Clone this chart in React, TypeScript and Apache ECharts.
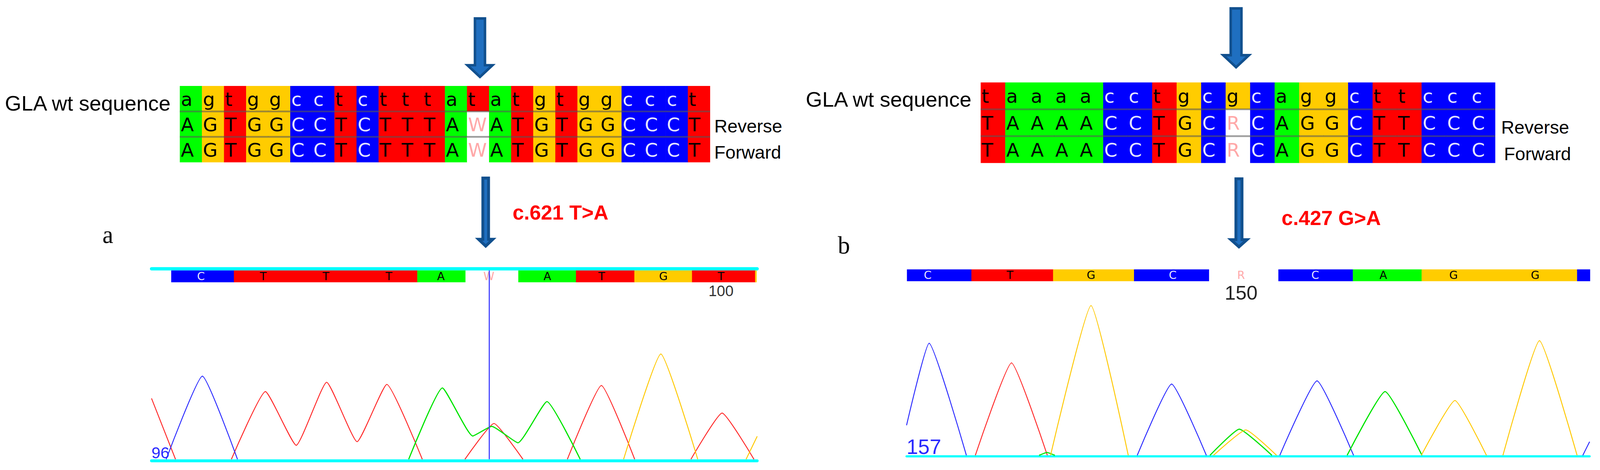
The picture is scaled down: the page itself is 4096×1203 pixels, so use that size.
import React, { useEffect, useRef } from 'react';
import * as echarts from 'echarts';

const S = 4096 / 4467;
const p = (v: number) => v * S;

// ---------- alignment data ----------
const leftWt = ['a','g','t','g','g','c','c','t','c','t','t','t','a','t','a','t','g','t','g','g','c','c','c','t'];
const leftReverse = ['A','G','T','G','G','C','C','T','C','T','T','T','A','W','A','T','G','T','G','G','C','C','C','T'];
const leftForward = ['A','G','T','G','G','C','C','T','C','T','T','T','A','W','A','T','G','T','G','G','C','C','C','T'];
const rightWt = ['t','a','a','a','a','c','c','t','g','c','g','c','a','g','g','c','t','t','c','c','c'];
const rightReverse = ['T','A','A','A','A','C','C','T','G','C','R','C','A','G','G','C','T','T','C','C','C'];
const rightForward = ['T','A','A','A','A','C','C','T','G','C','R','C','A','G','G','C','T','T','C','C','C'];
const rowNames = ['GLA wt sequence', 'Reverse', 'Forward'];
const mutations = ['c.621 T>A', 'c.427 G>A'];
const panelLetters = ['a', 'b'];

// ---------- base-call strips [start, end, base] ----------
const leftStrip: [number, number, string][] = [[55,230,'C'],[230,742,'T'],[742,876,'A'],[1024,1185,'A'],[1185,1348,'T'],[1348,1509,'G'],[1509,1685,'T'],[1685,1689,'G']];
const leftCalls: [number, string][] = [[138,'C'],[312,'T'],[487,'T'],[663,'T'],[808,'A'],[942,'W'],[1105,'A'],[1257,'T'],[1429,'G'],[1590,'T']];
const rightStrip: [number, number, string][] = [[1,181,'C'],[181,409,'T'],[409,635,'G'],[635,844,'C'],[1038,1246,'C'],[1246,1438,'A'],[1438,1872,'G'],[1872,1908,'C']];
const rightCalls: [number, string][] = [[59,'C'],[289,'T'],[515,'G'],[743,'C'],[934,'R'],[1141,'C'],[1331,'A'],[1527,'G'],[1755,'G']];
const positionLabels = ['100', '150', '96', '157'];

// ---------- traces [scan, intensity] ----------
const leftRedPeaks = [
  [[0,170],[67,0]],
  [[223,0],[318,189],[404,39],[489,215],[574,49],[657,209],[756,0]],
  [[875,0],[956,100],[1037,0]],
  [[1161,0],[1256,206],[1349,0]],
  [[1506,0],[1593,129],[1682,0]],
];
const leftBluePeaks = [[[41,0],[142,232],[240,0]]];
const leftGreenPeaks = [[[718,0],[812,199],[897,65],[950,92],[1023,46],[1104,161],[1197,0]]];
const leftYellowPeaks = [[[1318,0],[1422,294],[1525,0]], [[1660,0],[1691,64]]];
const leftCursor = [[943,0],[943,527]];

const rightBluePeaks = [[[0,84],[63,313],[167,0]], [[644,0],[740,199],[837,0]], [[1042,0],[1146,208],[1248,0]], [[1888,0],[1907,38]]];
const rightRedPeaks = [[[192,0],[293,258],[393,0]]];
const rightGreenPeaks = [[[370,0],[392,8],[414,0]], [[847,0],[929,73],[1020,0]], [[1230,0],[1336,178],[1439,0]]];
const rightYellowPeaks = [[[402,0],[515,418],[619,0]], [[857,0],[947,71],[1033,0]], [[1437,0],[1531,153],[1619,0]], [[1665,0],[1767,320],[1872,0]]];

const FILL: Record<string, string> = { a: '#00ff00', g: '#ffcc00', t: '#ff0000', c: '#0000ff' };
const baseFill = (b: string) => FILL[b.toLowerCase()] || '#ffffff';
const baseText = (b: string) => {
  const l = b.toLowerCase();
  if (l === 'c') return '#e4e4ff';
  if (l === 'w' || l === 'r') return '#ffa8a8';
  return '#000000';
};
const TRACE: Record<string, string> = { red: '#ff2a2a', blue: '#2a2aff', green: '#00e400', yellow: '#ffc800' };

function buildCells(rows: string[][]) {
  const cells: { col: number; row: number; base: string }[] = [];
  rows.forEach((r, ri) => r.forEach((b, ci) => cells.push({ col: ci, row: ri, base: b })));
  return cells;
}

function alignRender(cells: { col: number; row: number; base: string }[]) {
  return (params: any, api: any) => {
    const cell = cells[params.dataIndex];
    const c = api.coord([cell.col, cell.row]);
    const sz = api.size([1, 1]);
    const w = sz[0], h = sz[1];
    const x0 = c[0] - w / 2, y0 = c[1] - h / 2;
    const children: any[] = [
      { type: 'rect', shape: { x: x0, y: y0, width: w + 0.6, height: h }, style: { fill: baseFill(cell.base) } },
      { type: 'text', style: { x: x0 + p(3), y: c[1] + p(1), text: cell.base, fill: baseText(cell.base), font: `${p(53)}px "DejaVu Sans"`, lineHeight: p(56), align: 'left', verticalAlign: 'middle' } },
    ];
    if (cell.row > 0) {
      children.push({ type: 'rect', shape: { x: x0, y: y0 - p(2.5), width: w + 0.6, height: p(5) }, style: { fill: 'rgba(80,80,80,0.55)' } });
    }
    return { type: 'group', children };
  };
}

function stripRender(segs: [number, number, string][]) {
  return (params: any, api: any) => {
    const seg = segs[params.dataIndex];
    const s = api.coord([seg[0], 0]);
    const e = api.coord([seg[1], 0]);
    const cs = params.coordSys;
    return { type: 'rect', shape: { x: s[0], y: cs.y, width: e[0] - s[0] + 0.5, height: cs.height }, style: { fill: baseFill(seg[2]) } };
  };
}

function callRender(calls: [number, string][], dy: number) {
  return (params: any, api: any) => {
    const call = calls[params.dataIndex];
    const c = api.coord([call[0], 0]);
    const cs = params.coordSys;
    return { type: 'text', style: { x: c[0], y: cs.y + dy, text: call[1], fill: baseText(call[1]), font: `${p(31)}px "DejaVu Sans"`, lineHeight: p(31), align: 'center', verticalAlign: 'middle' } };
  };
}

function traceSeries(peaks: number[][][], color: string, gi: number, width: number) {
  return peaks.map((pk) => ({
    type: 'line', xAxisIndex: gi, yAxisIndex: gi, data: pk, smooth: 0.14, symbol: 'none', showSymbol: false,
    lineStyle: { color: TRACE[color], width: p(width) }, silent: true, z: 3,
  }));
}

function arrow(cx: number, y0: number, yHead: number, yTip: number, shaftW: number, headW: number, sw: number) {
  const hs = shaftW / 2 - sw / 2, hh = headW / 2 - sw / 2;
  const pts = [[cx - hs, y0 + sw / 2], [cx + hs, y0 + sw / 2], [cx + hs, yHead], [cx + hh, yHead], [cx, yTip - sw * 0.75], [cx - hh, yHead], [cx - hs, yHead]];
  return { type: 'polygon', shape: { points: pts.map(([x, y]) => [p(x), p(y)]) }, style: { fill: '#1f6fc0', stroke: '#11508e', lineWidth: p(sw), lineJoin: 'miter' }, silent: true };
}

function txt(text: string, x: number, baseline: number, size: number, opts: any = {}) {
  const k = opts.k ?? 0.3465;
  return {
    type: 'text', x: p(x), y: p(baseline - k * size), silent: true,
    style: { text, fill: opts.fill || '#000', font: `${opts.weight || 'normal'} ${p(size)}px ${opts.family || '"Liberation Sans"'}`, align: opts.align || 'left', verticalAlign: 'middle' },
  };
}

export default function App() {
  const ref = useRef<HTMLDivElement>(null);
  useEffect(() => {
    if (!ref.current) return;
    const chart = echarts.init(ref.current, undefined, { renderer: 'svg' });
    const leftCells = buildCells([leftWt, leftReverse, leftForward]);
    const rightCells = buildCells([rightWt, rightReverse, rightForward]);
    const hidden = { show: false };
    const cyanAxis = (w: number, off: number, pos: string) => ({
      show: true, position: pos, offset: p(off),
      axisLine: { show: true, onZero: false, lineStyle: { color: '#00ffff', width: p(w) } },
      axisTick: hidden, axisLabel: hidden, splitLine: hidden,
    });
    const option: any = {
      animation: false,
      backgroundColor: '#ffffff',
      grid: [
        { left: p(502), top: p(240), width: p(1480), height: p(213) },
        { left: p(2738), top: p(230), width: p(1436), height: p(225) },
        { left: p(423), top: p(755), width: p(1691), height: p(33) },
        { left: p(423), top: p(788), width: p(1691), height: p(494) },
        { left: p(2531), top: p(752), width: p(1907), height: p(33) },
        { left: p(2531), top: p(785), width: p(1907), height: p(486) },
      ],
      xAxis: [
        { gridIndex: 0, type: 'category', data: leftWt.map((_, i) => i), show: false },
        { gridIndex: 1, type: 'category', data: rightWt.map((_, i) => i), show: false },
        { gridIndex: 2, type: 'value', min: 0, max: 1691, ...cyanAxis(9, 4.5, 'top') },
        { gridIndex: 3, type: 'value', min: 0, max: 1691, ...cyanAxis(8, 4, 'bottom') },
        { gridIndex: 4, type: 'value', min: 0, max: 1907, show: false },
        { gridIndex: 5, type: 'value', min: 0, max: 1907, ...cyanAxis(6, 2, 'bottom') },
      ],
      yAxis: [
        { gridIndex: 0, type: 'category', data: rowNames, inverse: true, show: false },
        { gridIndex: 1, type: 'category', data: rowNames, inverse: true, show: false },
        { gridIndex: 2, type: 'value', min: 0, max: 1, show: false },
        { gridIndex: 3, type: 'value', min: 0, max: 494, show: false },
        { gridIndex: 4, type: 'value', min: 0, max: 1, show: false },
        { gridIndex: 5, type: 'value', min: 0, max: 486, show: false },
      ],
      series: [
        { type: 'custom', xAxisIndex: 0, yAxisIndex: 0, data: leftCells.map((c) => [c.col, c.row]), renderItem: alignRender(leftCells), silent: true },
        { type: 'custom', xAxisIndex: 1, yAxisIndex: 1, data: rightCells.map((c) => [c.col, c.row]), renderItem: alignRender(rightCells), silent: true },
        { type: 'custom', xAxisIndex: 2, yAxisIndex: 2, data: leftStrip.map((s) => [s[0], 0]), renderItem: stripRender(leftStrip), silent: true },
        { type: 'custom', xAxisIndex: 2, yAxisIndex: 2, data: leftCalls.map((c) => [c[0], 0]), renderItem: callRender(leftCalls, p(17)), silent: true, z: 4 },
        { type: 'custom', xAxisIndex: 4, yAxisIndex: 4, data: rightStrip.map((s) => [s[0], 0]), renderItem: stripRender(rightStrip), silent: true },
        { type: 'custom', xAxisIndex: 4, yAxisIndex: 4, data: rightCalls.map((c) => [c[0], 0]), renderItem: callRender(rightCalls, p(16)), silent: true, z: 4 },
        ...traceSeries(leftRedPeaks, 'red', 3, 2.6),
        ...traceSeries(leftBluePeaks, 'blue', 3, 2.6),
        ...traceSeries(leftGreenPeaks, 'green', 3, 3.2),
        ...traceSeries(leftYellowPeaks, 'yellow', 3, 2.6),
        { type: 'line', xAxisIndex: 3, yAxisIndex: 3, data: leftCursor, clip: false, symbol: 'none', lineStyle: { color: '#3a3aff', width: p(3) }, silent: true, z: 5 },
        ...traceSeries(rightBluePeaks, 'blue', 5, 2.6),
        ...traceSeries(rightRedPeaks, 'red', 5, 2.6),
        ...traceSeries(rightGreenPeaks, 'green', 5, 3.2),
        ...traceSeries(rightYellowPeaks, 'yellow', 5, 2.6),
      ],
      graphic: {
        elements: [
          arrow(1340, 48, 182, 220, 35, 77, 7),
          arrow(3451, 20, 154, 193, 37, 79, 7),
          arrow(1356, 493, 668, 693, 24, 48, 8),
          arrow(3459, 495, 669, 695, 25, 53, 8),
          txt(rowNames[0], 476, 308, 59, { align: 'right' }),
          txt(rowNames[0], 2712, 297, 59, { align: 'right' }),
          txt(rowNames[1], 1994, 370, 51),
          txt(rowNames[2], 1994, 443, 51),
          txt(rowNames[1], 4191, 373, 51),
          txt(rowNames[2], 4199, 447, 51),
          txt(mutations[0], 1431, 613, 57, { fill: '#ff0000', weight: 'bold' }),
          txt(mutations[1], 3578, 628, 57, { fill: '#ff0000', weight: 'bold' }),
          txt(panelLetters[0], 286, 678, 68, { family: '"Liberation Serif"', k: 0.3375 }),
          txt(panelLetters[1], 2339, 707, 68, { family: '"Liberation Serif"', k: 0.3375 }),
          txt(positionLabels[0], 2013, 826, 42, { align: 'center', fill: '#333333' }),
          txt(positionLabels[1], 3465, 836, 55, { align: 'center', fill: '#222222' }),
          txt(positionLabels[2], 423, 1280, 45, { fill: '#2a2aff' }),
          txt(positionLabels[3], 2531, 1267, 58, { fill: '#2a2aff' }),
        ],
      },
    };
    chart.setOption(option);
    return () => chart.dispose();
  }, []);
  return <div ref={ref} style={{ position: 'fixed', left: 0, top: 0, width: '4096px', height: '1203px', background: '#fff' }} />;
}
